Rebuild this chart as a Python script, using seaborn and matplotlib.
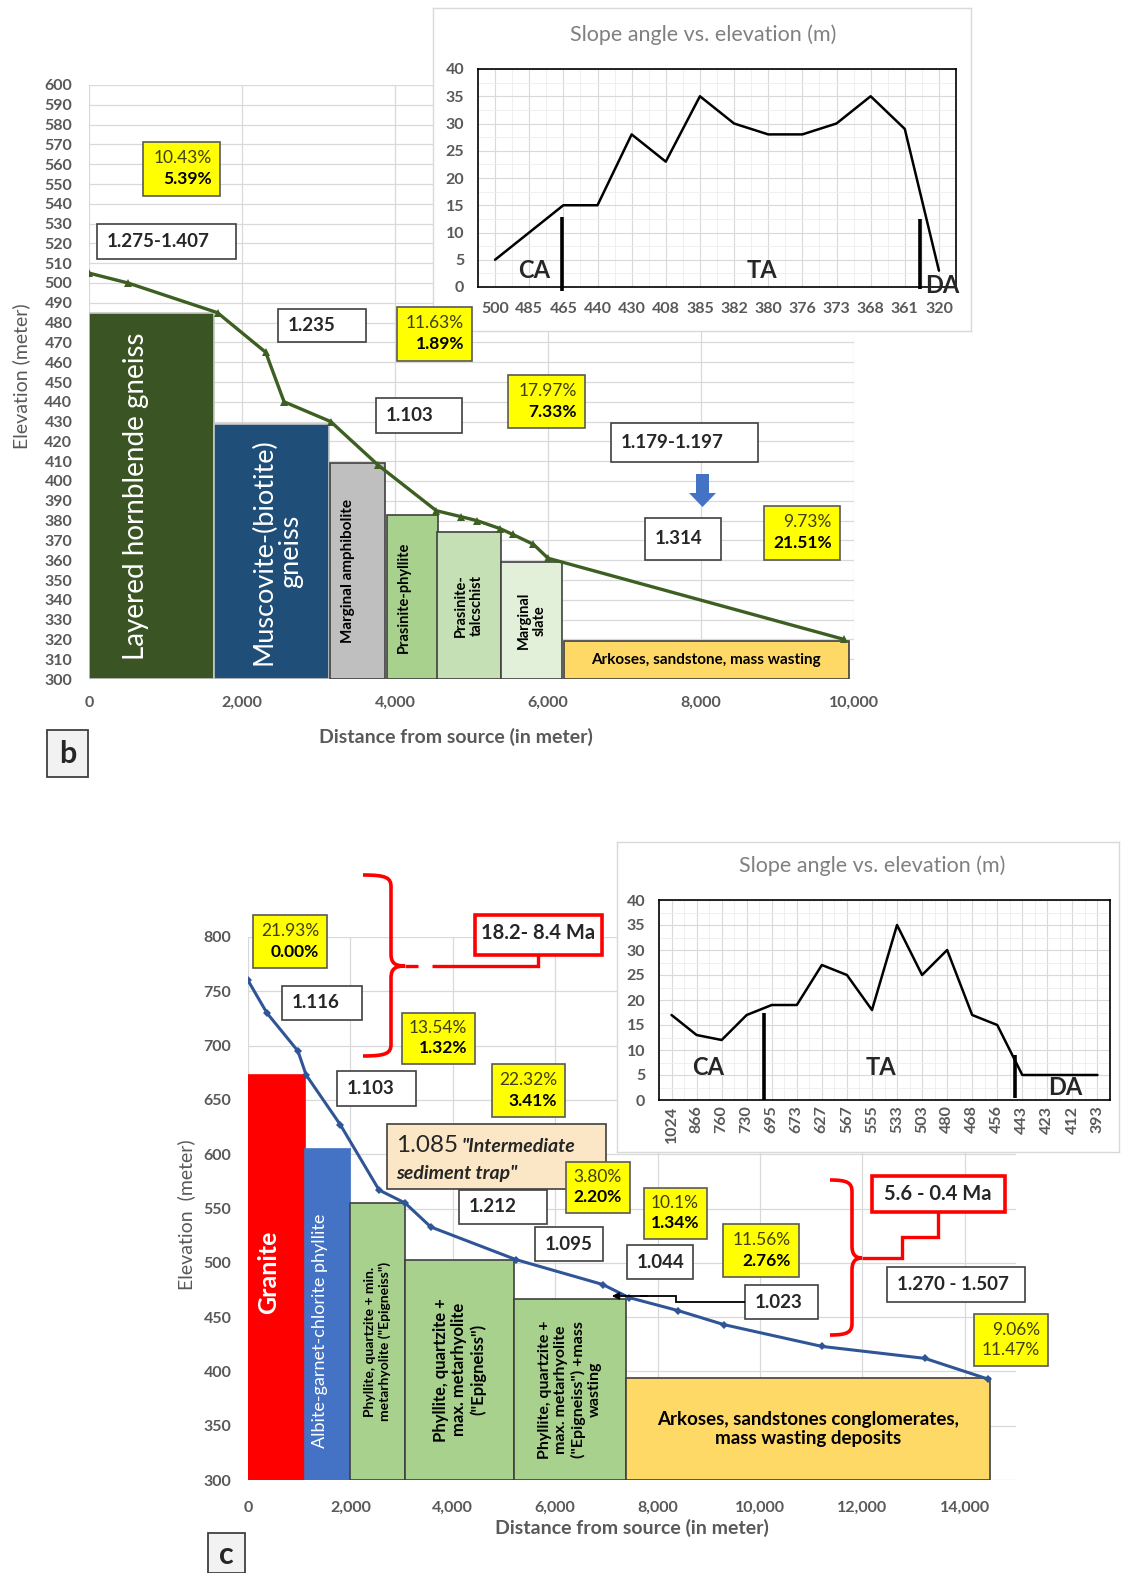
import numpy as np
import matplotlib
matplotlib.use('Agg')
import matplotlib.pyplot as plt
import matplotlib.transforms as mtransforms
from matplotlib.patches import Rectangle, Polygon, PathPatch, FancyArrowPatch
from matplotlib.lines import Line2D
from matplotlib.path import Path
from matplotlib.ticker import MultipleLocator
import seaborn as sns

sns.set_style('white')
plt.rcParams['font.family'] = ['Lato', 'DejaVu Sans']

# ---------------- panel b data ----------------
b_dist = [0, 510, 1680, 2310, 2550, 3160, 3780, 4540, 4860, 5070, 5370, 5540, 5810, 6000, 9870]
b_elev = [505, 500, 485, 465, 440, 430, 408, 385, 382, 380, 376, 373, 368, 361, 320]
b_units = ['Layered hornblende gneiss', 'Muscovite-(biotite)\ngneiss', 'Marginal amphibolite',
           'Prasinite-phyllite', 'Prasinite-\ntalcschist', 'Marginal\nslate',
           'Arkoses, sandstone, mass wasting']
b_unit_start = [0, 1630, 3150, 3900, 4550, 5390, 6210]
b_unit_end = [1630, 3140, 3870, 4560, 5380, 6180, 9930]
b_unit_top = [485, 429, 409, 383, 374, 359, 319]
b_slope_elev = ['500', '485', '465', '440', '430', '408', '385', '382', '380', '376', '373', '368', '361', '320']
b_slope = [5, 10, 15, 15, 28, 23, 35, 30, 28, 28, 30, 35, 29, 3]

# ---------------- panel c data ----------------
c_dist = [0, 370, 975, 1135, 1805, 2560, 3070, 3570, 5230, 6930, 7440, 8400, 9300, 11210, 13220, 14450]
c_elev = [760, 730, 695, 673, 627, 567, 555, 533, 503, 480, 468, 456, 443, 423, 412, 393]
c_units = ['Granite', 'Albite-garnet-chlorite phyllite',
           'Phyllite, quartzite + min.\nmetarhyolite ("Epigneiss")',
           'Phyllite, quartzite +\nmax. metarhyolite\n("Epigneiss")',
           'Phyllite, quartzite +\nmax. metarhyolite\n("Epigneiss") +mass\nwasting',
           'Arkoses, sandstones conglomerates,\nmass wasting deposits']
c_unit_start = [0, 1110, 1990, 3070, 5200, 7380]
c_unit_end = [1110, 1990, 3070, 5200, 7380, 14490]
c_unit_top = [673, 605, 555, 503, 467, 394]
c_slope_elev = ['1024', '866', '760', '730', '695', '673', '627', '567', '555', '533',
                '503', '480', '468', '456', '443', '423', '412', '393']
c_slope = [17, 13, 12, 17, 19, 19, 27, 25, 18, 35, 25, 30, 17, 15, 5, 5, 5, 5]

# styles (label nudges are in data units: metres along x, metres of elevation along y)
b_fill = ['#3a5424', '#1f4e79', '#bfbfbf', '#a9d18e', '#c5e0b4', '#e2f0d9', '#ffd966']
b_edge = ['#c8c8c8', '#c8c8c8', '#404040', '#404040', '#404040', '#404040', '#404040']
b_nudge = [(-200, 0), (80, 0), (-130, 0), (-120, 0), (0, 0), (0, 0), (0, 0)]
b_txt = [dict(color='white', fontsize=20, rotation=90),
         dict(color='white', fontsize=19.5, rotation=90, linespacing=1.1),
         dict(color='black', fontsize=11, fontweight='bold', rotation=90),
         dict(color='black', fontsize=10.5, fontweight='bold', rotation=90),
         dict(color='black', fontsize=10.5, fontweight='bold', rotation=90),
         dict(color='black', fontsize=10.5, fontweight='bold', rotation=90),
         dict(color='black', fontsize=11, fontweight='bold', rotation=0)]
c_fill = ['#ff0000', '#4472c4', '#a9d18e', '#a9d18e', '#a9d18e', '#ffd966']
c_edge = ['#ff0000', '#4472c4', '#404040', '#404040', '#404040', '#404040']
c_nudge = [(-150, 5), (-150, -15), (0, 0), (0, 0), (0, 0), (0, 0)]
c_txt = [dict(color='white', fontsize=18, fontweight='bold', rotation=90),
         dict(color='white', fontsize=13, rotation=90),
         dict(color='black', fontsize=10, fontweight='bold', rotation=90),
         dict(color='black', fontsize=12, fontweight='bold', rotation=90),
         dict(color='black', fontsize=11.5, fontweight='bold', rotation=90),
         dict(color='black', fontsize=13.5, fontweight='bold', rotation=0)]

GREEN = '#3d5f22'
BLUE = '#2f5597'
TICK = '#595959'
GRID = '#d9d9d9'

W, H = 1121, 1573
fig = plt.figure(figsize=(W / 100, H / 100), dpi=100)
px = mtransforms.Affine2D().scale(1 / W, -1 / H).translate(0, 1) + fig.transFigure


def axes_px(x0, y0, x1, y1):
    return fig.add_axes([x0 / W, 1 - y1 / H, (x1 - x0) / W, (y1 - y0) / H])


def text_px(x, y, s, **kw):
    kw.setdefault('ha', 'center')
    kw.setdefault('va', 'center')
    kw.setdefault('zorder', 8)
    return fig.text(x, y, s, transform=px, **kw)


def rect_px(x0, y0, x1, y1, fc, ec='#404040', lw=1.2):
    fig.add_artist(Rectangle((x0, y0), x1 - x0, y1 - y0, transform=px,
                             facecolor=fc, edgecolor=ec, linewidth=lw, zorder=6))


def wbox(x0, y0, x1, y1, s, fs=13.5):
    rect_px(x0, y0, x1, y1, 'white')
    text_px(x0 + 10, (y0 + y1) / 2, s, ha='left', fontsize=fs, fontweight='bold')


def ybox(x0, y0, x1, y1, top, bottom, bold_bottom=True):
    rect_px(x0, y0, x1, y1, '#ffff00', ec='#595959')
    h = y1 - y0
    text_px(x1 - 8, y0 + 0.30 * h, top, ha='right', fontsize=12.5, color='#3f3f10')
    text_px(x1 - 8, y0 + 0.69 * h, bottom, ha='right', fontsize=12.5,
            fontweight='bold' if bold_bottom else 'normal',
            color='black' if bold_bottom else '#3f3f10')


def line_px(xs, ys, color='red', lw=2.4):
    fig.add_artist(Line2D(xs, ys, transform=px, color=color, lw=lw, zorder=7,
                          solid_joinstyle='miter', solid_capstyle='butt'))


def brace_px(xe, xs, xt, y0, ym, y1):
    r = 12
    verts = [(xe, y0), (xs - 4, y0), (xs, y0 + 3), (xs, y0 + r),
             (xs, ym - r), (xs, ym - 3), (xs + 4, ym), (xt, ym),
             (xs + 4, ym), (xs, ym + 3), (xs, ym + r),
             (xs, y1 - r), (xs, y1 - 3), (xs - 4, y1), (xe, y1)]
    codes = [Path.MOVETO, Path.CURVE4, Path.CURVE4, Path.CURVE4,
             Path.LINETO, Path.CURVE4, Path.CURVE4, Path.CURVE4,
             Path.CURVE4, Path.CURVE4, Path.CURVE4,
             Path.LINETO, Path.CURVE4, Path.CURVE4, Path.CURVE4]
    fig.add_artist(PathPatch(Path(verts, codes), transform=px, facecolor='none',
                             edgecolor='red', lw=2.6, zorder=7))


def style_main(ax, xt, yt, xpad, ypad):
    ax.set_xticks(xt, [f'{v:,}' for v in xt], fontweight='bold')
    ax.set_yticks(yt, [str(v) for v in yt], fontweight='bold')
    ax.grid(True, color=GRID, lw=0.9)
    ax.set_axisbelow(True)
    for s in ax.spines.values():
        s.set_visible(False)
    ax.tick_params(axis='both', length=0, labelsize=11.5, labelcolor=TICK)
    ax.tick_params(axis='x', pad=xpad)
    ax.tick_params(axis='y', pad=ypad)
    ax.set_xlabel('')
    ax.set_ylabel('')


def draw_units(ax, start, end, top, fill, edge, names, styles, nudges):
    start = np.array(start)
    end = np.array(end)
    top = np.array(top)
    ax.bar(start, top - 300, width=end - start, bottom=300, align='edge',
           color=fill, edgecolor=edge, linewidth=1.2, zorder=2)
    for s0, s1, t, name, st, (dx, dy) in zip(start, end, top, names, styles, nudges):
        ax.text((s0 + s1) / 2 + dx, (300 + t) / 2 + dy, name, ha='center', va='center',
                multialignment='center', zorder=3, **st)


def style_inset(ax, labels, rot):
    n = len(labels)
    ax.set_xlim(-0.5, n - 0.5)
    ax.set_ylim(0, 40)
    ax.set_xticks(np.arange(n), labels, fontweight='bold', rotation=rot)
    ax.set_xticks(np.arange(n - 1) + 0.5, minor=True)
    ax.set_yticks(range(0, 41, 5), [str(v) for v in range(0, 41, 5)], fontweight='bold')
    ax.yaxis.set_minor_locator(MultipleLocator(2.5))
    ax.grid(which='major', color=GRID, lw=0.8)
    ax.grid(which='minor', color='#ededed', lw=0.6)
    ax.tick_params(which='both', length=0, labelsize=11.5, labelcolor=TICK)
    for s in ax.spines.values():
        s.set_color('black')
        s.set_linewidth(1.2)
    ax.set_xlabel('')
    ax.set_ylabel('')


def outer_box(x0, y0, x1, y1):
    a = axes_px(x0, y0, x1, y1)
    a.set_xticks([])
    a.set_yticks([])
    a.set_facecolor('white')
    for s in a.spines.values():
        s.set_color('#d9d9d9')
        s.set_linewidth(1.0)
    return a


# ================= panel b =================
ax_b = axes_px(89, 85, 854, 679)
ax_b.set_xlim(0, 10000)
ax_b.set_ylim(300, 600)
draw_units(ax_b, b_unit_start, b_unit_end, b_unit_top, b_fill, b_edge, b_units, b_txt, b_nudge)
sns.lineplot(x=b_dist, y=b_elev, ax=ax_b, color=GREEN, lw=2.4, marker='^',
             markersize=6, markeredgewidth=0, sort=False, zorder=4)
style_main(ax_b, list(range(0, 10001, 2000)), list(range(300, 601, 10)), 12, 12)

text_px(21, 376, 'Elevation (meter)', rotation=90, fontsize=14, color=TICK)
text_px(456, 737, 'Distance from source (in meter)', fontsize=14, fontweight='bold', color=TICK)

outer_box(433, 8, 971, 331)
ax_ib = axes_px(478, 69, 956, 287)
sns.lineplot(x=np.arange(len(b_slope)), y=b_slope, ax=ax_ib, color='black', lw=1.8)
style_inset(ax_ib, b_slope_elev, 0)
ax_ib.tick_params(axis='x', pad=11)
ax_ib.tick_params(axis='y', pad=10)
ax_ib.plot([1.97, 1.97], [-0.8, 12.8], color='black', lw=2.6, clip_on=False, solid_capstyle='butt')
ax_ib.plot([12.46, 12.46], [-0.4, 12.5], color='black', lw=2.6, clip_on=False, solid_capstyle='butt')
ax_ib.text(1.15, 3.1, 'CA', fontsize=17, fontweight='bold', ha='center', va='center')
ax_ib.text(7.83, 3.1, 'TA', fontsize=17, fontweight='bold', ha='center', va='center')
ax_ib.text(13.1, 0.3, 'DA', fontsize=17, fontweight='bold', ha='center', va='center', clip_on=False)
text_px(703, 35, 'Slope angle vs. elevation (m)', fontsize=15.5, color='#808080')

ybox(143, 142, 220, 196, '10.43%', '5.39%')
wbox(97, 224, 236, 259, '1.275-1.407')
wbox(278, 309, 366, 342, '1.235')
ybox(397, 307, 472, 361, '11.63%', '1.89%')
wbox(376, 398, 462, 433, '1.103')
ybox(508, 375, 585, 428, '17.97%', '7.33%')
wbox(611, 423, 758, 462, '1.179-1.197')
fig.add_artist(Polygon([(696, 474), (709, 474), (709, 493), (716, 493), (702.5, 507),
                        (689, 493), (696, 493)], closed=True, transform=px,
                       facecolor='#4472c4', edgecolor='none', zorder=6))
wbox(645, 518, 721, 560, '1.314')
ybox(764, 506, 840, 560, '9.73%', '21.51%')

rect_px(47, 730, 88, 777, '#f2f2f2', ec='#404040', lw=1.3)
text_px(67.5, 754, 'b', fontsize=22, fontweight='bold')

# ================= panel c =================
ax_c = axes_px(248, 937, 1016, 1480)
ax_c.set_xlim(0, 15000)
ax_c.set_ylim(300, 800)
draw_units(ax_c, c_unit_start, c_unit_end, c_unit_top, c_fill, c_edge, c_units, c_txt, c_nudge)
sns.lineplot(x=c_dist, y=c_elev, ax=ax_c, color=BLUE, lw=2.2, marker='D',
             markersize=4.5, markeredgewidth=0, sort=False, zorder=4)
style_main(ax_c, list(range(0, 14001, 2000)), list(range(300, 801, 50)), 15, 12)

text_px(186, 1215, 'Elevation  (meter)', rotation=90, fontsize=14, color=TICK)
text_px(632, 1528, 'Distance from source (in meter)', fontsize=14, fontweight='bold', color=TICK)

outer_box(617, 842, 1119, 1152)
ax_ic = axes_px(659, 900, 1110, 1100)
sns.lineplot(x=np.arange(len(c_slope)), y=c_slope, ax=ax_ic, color='black', lw=1.8)
style_inset(ax_ic, c_slope_elev, 90)
ax_ic.tick_params(axis='x', pad=4)
ax_ic.tick_params(axis='y', pad=10)
ax_ic.plot([3.7, 3.7], [0, 17.5], color='black', lw=2.6, solid_capstyle='butt')
ax_ic.plot([13.69, 13.69], [0.5, 9], color='black', lw=2.6, solid_capstyle='butt')
ax_ic.text(1.46, 6.5, 'CA', fontsize=17, fontweight='bold', ha='center', va='center')
ax_ic.text(8.35, 6.5, 'TA', fontsize=17, fontweight='bold', ha='center', va='center')
ax_ic.text(15.7, 2.5, 'DA', fontsize=17, fontweight='bold', ha='center', va='center')
text_px(872, 866, 'Slope angle vs. elevation (m)', fontsize=15.5, color='#808080')

ybox(253, 915, 327, 968, '21.93%', '0.00%')
wbox(282, 986, 362, 1020, '1.116')
wbox(337, 1071, 416, 1106, '1.103')
ybox(402, 1013, 475, 1064, '13.54%', '1.32%')
ybox(492, 1064, 565, 1117, '22.32%', '3.41%')

rect_px(387, 1124, 606, 1189, '#fbe7c6')
text_px(396, 1145, '1.085', ha='left', fontsize=17.5)
text_px(461, 1146, '"Intermediate', ha='left', fontsize=14, fontweight='bold', style='italic')
text_px(396, 1173, 'sediment trap"', ha='left', fontsize=14, fontweight='bold', style='italic')

ybox(566, 1162, 630, 1213, '3.80%', '2.20%')
wbox(459, 1190, 547, 1224, '1.212')
wbox(535, 1227, 603, 1261, '1.095')
ybox(644, 1188, 707, 1239, '10.1%', '1.34%')
wbox(627, 1245, 693, 1279, '1.044')
ybox(723, 1224, 799, 1277, '11.56%', '2.76%')
wbox(745, 1285, 818, 1319, '1.023')
line_px([745, 676, 676, 640], [1302, 1302, 1296, 1296], color='black', lw=1.3)
fig.add_artist(FancyArrowPatch((650, 1296), (609, 1296), transform=px, arrowstyle='-|>',
                               mutation_scale=10, color='black', lw=1.3, zorder=7))
wbox(887, 1267, 1025, 1302, '1.270 - 1.507')
ybox(974, 1314, 1048, 1366, '9.06%', '11.47%', bold_bottom=False)

# red age brackets
brace_px(363, 391, 405, 875, 966, 1056)
line_px([405, 418], [966, 966])
line_px([432, 538, 538], [966, 966, 955])
rect_px(475, 915, 602, 955, 'white', ec='red', lw=2.6)
text_px(538, 933, '18.2- 8.4 Ma', fontsize=14.5, fontweight='bold')

brace_px(830, 852, 862, 1180, 1258, 1335)
line_px([862, 902, 902, 938, 938], [1258, 1258, 1237, 1237, 1212])
rect_px(872, 1176, 1005, 1212, 'white', ec='red', lw=2.6)
text_px(938, 1194, '5.6 - 0.4 Ma', fontsize=14.5, fontweight='bold')

rect_px(208, 1533, 245, 1573, '#f2f2f2', ec='#404040', lw=1.3)
text_px(226.5, 1555, 'c', fontsize=22, fontweight='bold')

fig.savefig('out.png', dpi=100)
